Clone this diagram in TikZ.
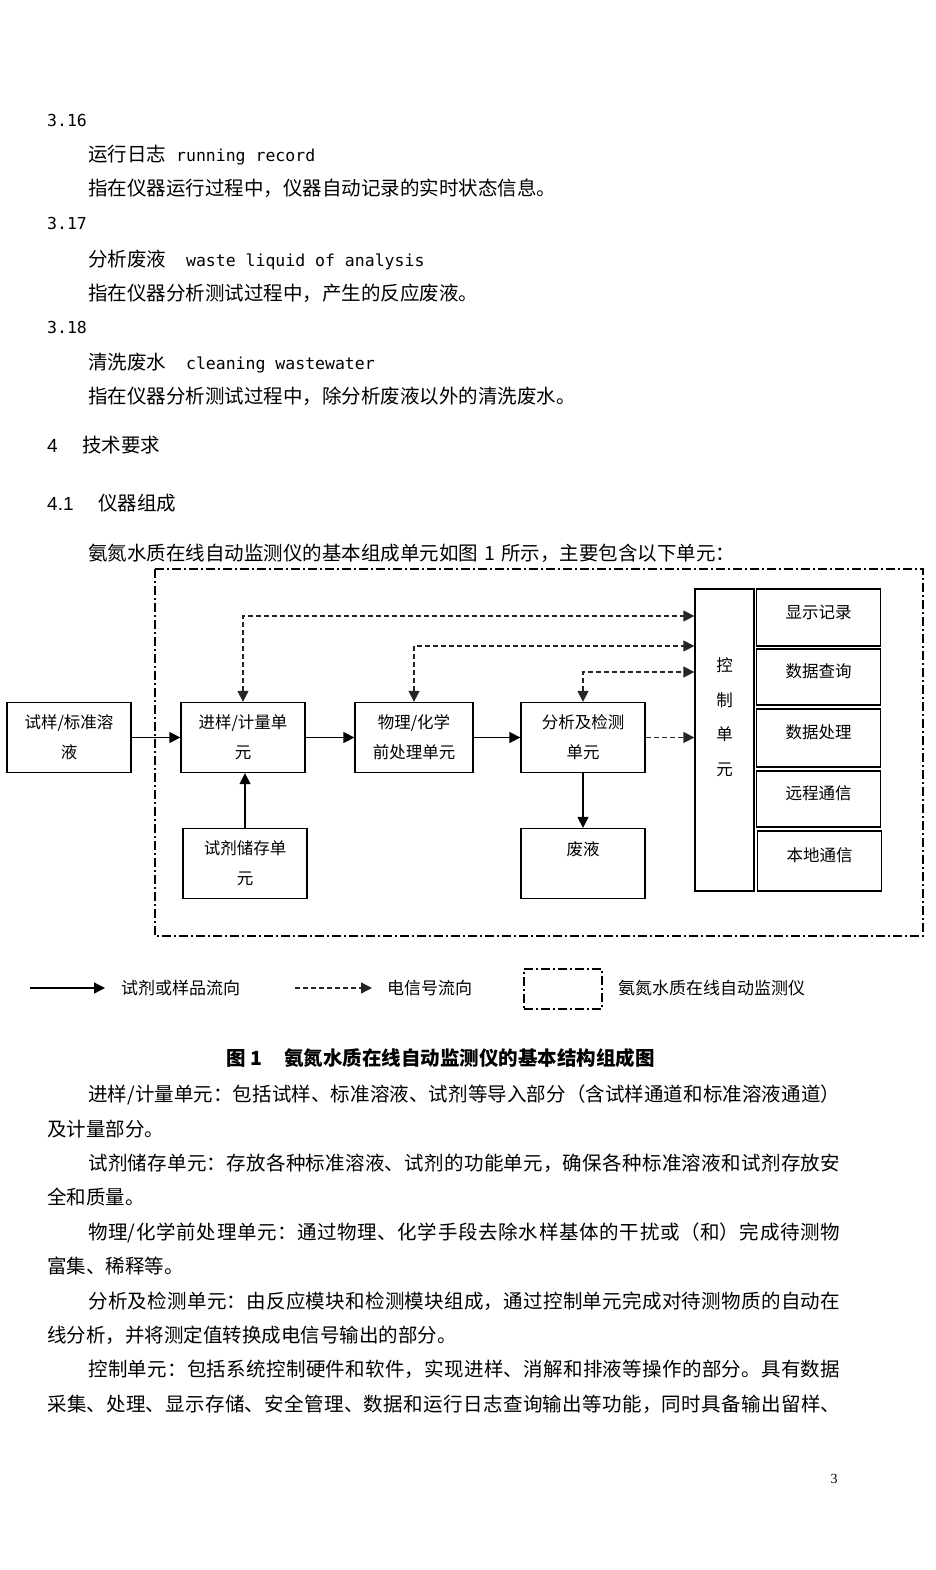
\documentclass[tikz,border=0pt]{standalone}
\usepackage{fontspec}
\setmainfont{Noto Sans CJK SC}
\newfontfamily\monofont{DejaVu Sans Mono}
\newfontfamily\headfont{Liberation Sans}
\newfontfamily\pagefont{Liberation Serif}
\usetikzlibrary{arrows.meta}
\XeTeXlinebreaklocale "zh"
\XeTeXlinebreakskip=0pt plus 1pt
\newcommand{\en}[1]{{\monofont\fontsize{16.5}{20}\selectfont #1}}
\tikzstyle{block} = [draw, line width=1.3pt, rectangle, minimum width=124pt, minimum height=70pt, inner sep=0pt, align=center, font={\fontsize{16.5}{30}\selectfont}]
\tikzstyle{subblock} = [block, minimum height=56pt, text depth=12pt]
\tikzstyle{flow} = [->, line width=1.3pt]
\tikzstyle{sig} = [flow, black!85, dash pattern=on 5pt off 3pt]
\tikzstyle{frame} = [line width=1.2pt, dash pattern=on 9pt off 3pt on 2pt off 3pt]
\tikzstyle{txt} = [anchor=base west, inner sep=0pt, font={\fontsize{19.5}{34.4}\selectfont}]
\tikzstyle{legend} = [anchor=west, inner sep=0pt, font={\fontsize{17}{20}\selectfont}]

\begin{document}
\begin{tikzpicture}[x=1pt, y=-1pt, >={Triangle[length=11pt, width=11pt]}]
    \useasboundingbox (0,0) rectangle (935,1570);

    % Terms
    \node [txt, font=\monofont\fontsize{16.5}{20}\selectfont] (n316) at (47,127) {3.16};
    \node [txt] (t316) at (88,162) {运行日志\en{~running record}};
    \node [txt] (d316) at (88,196) {指在仪器运行过程中，仪器自动记录的实时状态信息。};
    \node [txt, font=\monofont\fontsize{16.5}{20}\selectfont] (n317) at (47,230) {3.17};
    \node [txt] (t317) at (88,266) {分析废液\en{~~waste liquid of analysis}};
    \node [txt] (d317) at (88,300) {指在仪器分析测试过程中，产生的反应废液。};
    \node [txt, font=\monofont\fontsize{16.5}{20}\selectfont] (n318) at (47,333) {3.18};
    \node [txt] (t318) at (88,369) {清洗废水\en{~~cleaning wastewater}};
    \node [txt] (d318) at (88,403) {指在仪器分析测试过程中，除分析废液以外的清洗废水。};

    \node [txt, font=\headfont\fontsize{19}{20}\selectfont] (h4) at (47,452) {4};
    \node [txt] (h4t) at (82,452) {技术要求};
    \node [txt, font=\headfont\fontsize{19}{20}\selectfont] (h41) at (47,510) {4.1};
    \node [txt] (h41t) at (98,510) {仪器组成};
    \node [txt] (intro) at (88,560) {氨氮水质在线自动监测仪的基本组成单元如图\hspace{6pt}1\hspace{6pt}所示，主要包含以下单元：};

    % Units
    \node [block] (smp) at (69,737.5) {试样/标准溶\\液};
    \node [block, right of=smp, node distance=174pt] (inj) {进样/计量单\\元};
    \node [block, right of=inj, node distance=171pt, minimum width=118pt] (pre) {物理/化学\\前处理单元};
    \node [block, right of=pre, node distance=169pt] (det) {分析及检测\\单元};
    \node [block, below of=inj, node distance=126pt, xshift=2pt] (rgt) {试剂储存单\\元};
    \node [block, below of=det, node distance=126pt] (wst) {废液\\~};
    \node [block, minimum width=59pt, minimum height=302pt, text depth=47pt, font={\fontsize{16.5}{34.4}\selectfont}] (ctl) at (724.5,740) {控\\制\\单\\元};
    \node [subblock, minimum height=57pt] (dsp) at (818.5,617.5) {显示记录};
    \node [subblock] (qry) at (818.5,677) {数据查询};
    \node [subblock, minimum height=58pt] (prc) at (818.5,738) {数据处理};
    \node [subblock] (rmt) at (818.5,799) {远程通信};
    \node [subblock, minimum height=60pt] (loc) at (819.5,861) {本地通信};

    \draw [flow] (smp) -- (inj);
    \draw [flow] (inj) -- (pre);
    \draw [flow] (pre) -- (det);
    \draw [flow] (rgt.north) -- (rgt.north |- inj.south);
    \draw [flow] (det.south) -- (wst.north);

    \coordinate (s1) at (0,616);
    \coordinate (s2) at (0,646);
    \coordinate (s3) at (0,672);
    \draw [sig, <->] (inj.north) |- (s1 -| ctl.west);
    \draw [sig, <->] (pre.north) |- (s2 -| ctl.west);
    \draw [sig, <->] (det.north) |- (s3 -| ctl.west);
    \draw [sig] (det) -- (det -| ctl.west);

    % Dash-dot box
    \draw [frame] (155,569) rectangle (923,936);

    % Legend
    \coordinate (l1a) at (30,988);
    \coordinate (l1b) at (105,988);
    \draw [flow] (l1a) -- (l1b);
    \node [legend] (l1) at (121,988) {试剂或样品流向};
    \coordinate (l2a) at (295,988);
    \coordinate (l2b) at (372,988);
    \draw [sig] (l2a) -- (l2b);
    \node [legend] (l2) at (387,988) {电信号流向};
    \node [frame, draw, minimum width=78pt, minimum height=40pt] (l3b) at (563,989) {};
    \node [legend] (l3) at (618,988) {氨氮水质在线自动监测仪};

    \node [txt, font=\bfseries\fontsize{19.5}{20}\selectfont] (cap) at (226,1065.5) {图 1\hspace{22pt}氨氮水质在线自动监测仪的基本结构组成图};

    % Unit descriptions
    \node [anchor=north west, inner sep=0pt, text width=793pt, align=justify, font={\fontsize{19.5}{34.4}\selectfont}] (body) at (47,1081.4) {%
        \noindent\rule{0pt}{20pt}\hspace*{41pt}进样/计量单元：包括试样、标准溶液、试剂等导入部分（含试样通道和标准溶液通道）\linebreak 及计量部分。\par
        \noindent\hspace*{41pt}试剂储存单元：存放各种标准溶液、试剂的功能单元，确保各种标准溶液和试剂存放安\linebreak 全和质量。\par
        \noindent\hspace*{41pt}物理/化学前处理单元：通过物理、化学手段去除水样基体的干扰或（和）完成待测物\linebreak 富集、稀释等。\par
        \noindent\hspace*{41pt}分析及检测单元：由反应模块和检测模块组成，通过控制单元完成对待测物质的自动在\linebreak 线分析，并将测定值转换成电信号输出的部分。\par
        \noindent\hspace*{41pt}控制单元：包括系统控制硬件和软件，实现进样、消解和排液等操作的部分。具有数据\linebreak 采集、处理、显示存储、安全管理、数据和运行日志查询输出等功能，同时具备输出留样、\parfillskip=0pt\par};

    \node [anchor=base, inner sep=0pt, font=\pagefont\fontsize{14}{14}\selectfont] (pg) at (834,1483) {3};
\end{tikzpicture}
\end{document}
